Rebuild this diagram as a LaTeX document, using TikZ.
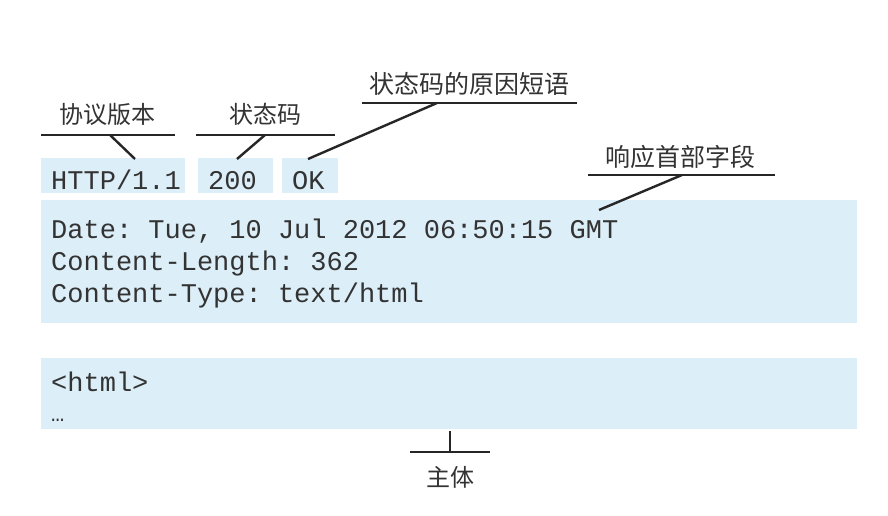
\documentclass[tikz,border=0pt]{standalone}
\usepackage{fontspec}
\setmonofont{Liberation Mono}
\newfontfamily\cjk{Noto Sans CJK SC}
\definecolor{boxblue}{HTML}{DCEEF8}
\definecolor{txtgray}{HTML}{333333}
\begin{document}
\begin{tikzpicture}[x=1pt,y=-1pt,
  bluebox/.style={fill=boxblue,draw=none,inner sep=0pt,anchor=north west},
  codetxt/.style={inner sep=0pt,anchor=base west,font=\ttfamily\fontsize{27}{30}\selectfont,text=txtgray},
  labtxt/.style={inner sep=0pt,anchor=base,font=\cjk\fontsize{24}{28}\selectfont,text=txtgray},
  uline/.style={line width=2.6pt,black!85},
  conn/.style={line width=2.4pt,black!85}]
\useasboundingbox (0,0) rectangle (888,516);
\fill[white] (0,0) rectangle (888,516);
% boxes
\node[bluebox,minimum width=144pt,minimum height=35pt] (bver) at (41,158) {};
\node[bluebox,minimum width=75pt,minimum height=35pt] (bcode) at (198,158) {};
\node[bluebox,minimum width=56pt,minimum height=35pt] (bok) at (282,158) {};
\node[bluebox,minimum width=816pt,minimum height=123pt] (bhead) at (41,200) {};
\node[bluebox,minimum width=816pt,minimum height=71pt] (bbody) at (41,358) {};
% code text
\node[codetxt] (tver) at (51,189) {HTTP/1.1};
\node[codetxt] (tcode) at (208,189) {200};
\node[codetxt] (tok) at (292,189) {OK};
\node[codetxt] (h1) at (51,238) {Date: Tue, 10 Jul 2012 06:50:15 GMT};
\node[codetxt] (h2) at (51,270) {Content-Length: 362};
\node[codetxt] (h3) at (51,302) {Content-Type: text/html};
\node[codetxt] (b1) at (51,391) {<html>};
\node[codetxt] (b2) at (51,421) {\fontsize{22}{24}\selectfont …};
% labels
\node[labtxt] (lver) at (107,124) {协议版本};
\node[labtxt] (lcode) at (265,124) {状态码};
\node[labtxt,font=\cjk\fontsize{25}{28}\selectfont] (lreason) at (469,94) {状态码的原因短语};
\node[labtxt,font=\cjk\fontsize{25}{28}\selectfont] (lhead) at (680,166) {响应首部字段};
\node[labtxt] (lbody) at (450,486) {主体};
% underlines
\coordinate (uverL) at (41,135); \coordinate (uverR) at (175,135);
\coordinate (ucodeL) at (196,135); \coordinate (ucodeR) at (335,135);
\coordinate (ureasL) at (362,103); \coordinate (ureasR) at (577,103);
\coordinate (uheadL) at (588,175); \coordinate (uheadR) at (775,175);
\coordinate (ubodyL) at (410,452); \coordinate (ubodyR) at (490,452);
\draw[uline] (uverL) -- (uverR);
\draw[uline] (ucodeL) -- (ucodeR);
\draw[uline] (ureasL) -- (ureasR);
\draw[uline] (uheadL) -- (uheadR);
\draw[uline] (ubodyL) -- (ubodyR);
% connectors
\coordinate (cver) at (110,135); \coordinate (cverE) at (135,159);
\coordinate (ccode) at (265,135); \coordinate (ccodeE) at (237,159);
\coordinate (creas) at (437,103); \coordinate (creasE) at (308,159);
\coordinate (chead) at (682,175); \coordinate (cheadE) at (599,210);
\coordinate (cbody) at (450,452); \coordinate (cbodyE) at (450,431);
\draw[conn] (cver) -- (cverE);
\draw[conn] (ccode) -- (ccodeE);
\draw[conn] (creas) -- (creasE);
\draw[conn] (chead) -- (cheadE);
\draw[conn] (cbody) -- (cbodyE);
\end{tikzpicture}
\end{document}
